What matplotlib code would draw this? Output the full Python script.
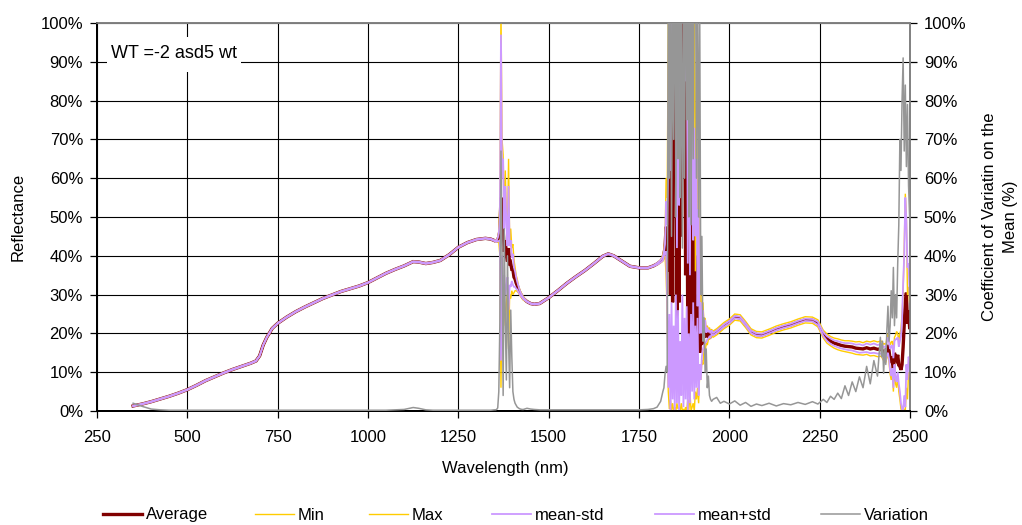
import numpy as np
import matplotlib
matplotlib.use("Agg")
import matplotlib.pyplot as plt
from matplotlib.lines import Line2D
from matplotlib.patches import Rectangle
from matplotlib.ticker import FuncFormatter

plt.rcParams["font.family"] = ["Liberation Sans", "DejaVu Sans"]
plt.rcParams["font.size"] = 12

# ---------------------------------------------------------------- data
# wavelength samples (nm)
wavelength_nm = [
    350, 375, 400, 425, 450, 475, 500, 525, 550, 575, 600, 625, 650, 675, 690, 700,
    710, 720, 735, 750, 775, 800, 825, 850, 875, 900, 925, 950, 975, 1000, 1025,
    1050, 1075, 1100, 1125, 1140, 1160, 1180, 1200, 1225, 1250, 1275, 1300, 1325,
    1340, 1350,
    # first water band
    1353, 1356, 1359, 1362, 1365, 1368, 1371, 1374, 1377, 1380, 1383, 1386, 1389,
    1392, 1395, 1398, 1401, 1404, 1407, 1410, 1413, 1416, 1419, 1422, 1426, 1430,
    1440, 1450, 1460, 1475, 1500, 1525, 1550, 1575, 1600, 1625, 1650, 1665, 1680,
    1700, 1725, 1750, 1775, 1790, 1800, 1810, 1816,
    # second water band
    1819, 1822, 1825, 1828, 1831, 1834, 1837, 1840, 1843, 1846, 1849, 1852, 1855,
    1858, 1861, 1864, 1867, 1870, 1873, 1876, 1879, 1882, 1885, 1888, 1891, 1894,
    1897, 1900, 1903, 1906, 1909, 1912, 1915, 1918, 1921, 1924, 1927, 1930, 1933,
    1936, 1939, 1942, 1945, 1948, 1951,
    1955, 1965, 1975, 1985, 2000, 2015, 2030, 2045, 2060, 2075, 2090, 2110, 2130,
    2150, 2170, 2190, 2210, 2230, 2245, 2260, 2270, 2280, 2290, 2300, 2310, 2320,
    2330, 2340, 2350, 2360, 2370, 2380, 2390, 2400, 2410, 2418,
    # detector edge
    2421, 2424, 2427, 2430, 2433, 2436, 2439, 2442, 2445, 2448, 2451, 2454, 2457,
    2460, 2463, 2466, 2469, 2472, 2475, 2478, 2481, 2484, 2487, 2490, 2493, 2496, 2499,
]

# mean reflectance (%)
average_pct = [
    1.3, 1.8, 2.4, 3.1, 3.8, 4.6, 5.5, 6.6, 7.8, 8.8, 9.8, 10.7, 11.5, 12.3, 12.9, 14.2,
    17.0, 19.0, 21.3, 22.6, 24.2, 25.6, 26.8, 27.9, 29.0, 29.9, 30.8, 31.5, 32.2, 33.1,
    34.3, 35.5, 36.5, 37.4, 38.5, 38.4, 38.0, 38.3, 38.8, 40.3, 42.2, 43.4, 44.2, 44.5,
    44.3, 43.9,
    43.8, 43.8, 44.2, 44.8, 46.5, 55.0, 50.0, 47.0, 41.0, 44.0, 40.0, 38.5, 42.0,
    37.5, 38.0, 36.5, 36.5, 34.5, 34.0, 33.0, 32.3, 31.5, 30.8, 30.2, 29.6, 29.0,
    28.2, 27.7, 27.5, 27.7, 29.2, 31.0, 32.9, 34.6, 36.2, 38.0, 39.9, 40.5, 40.0,
    38.8, 37.3, 36.9, 36.9, 37.4, 37.9, 38.6, 39.3,
    40.5, 42.0, 47.5, 38.0, 36.0, 75.0, 30.0, 85.0, 28.0, 108.0, 60.0, 95.0, 22.0,
    70.0, 28.0, 104.0, 45.0, 110.0, 90.0, 112.0, 35.0, 80.0, 20.0, 60.0, 17.0, 50.0,
    70.0, 19.0, 45.0, 22.0, 40.0, 16.0, 34.0, 15.0, 24.0, 17.0, 21.0, 19.0, 20.5,
    19.0, 20.0, 19.5, 20.0, 19.5, 20.3,
    19.8, 20.4, 21.2, 22.0, 22.9, 24.2, 24.0, 22.3, 20.4, 19.7, 19.6, 20.3, 21.1,
    21.7, 22.2, 22.9, 23.5, 23.4, 22.6, 19.8, 18.7, 18.0, 17.5, 17.2, 16.9, 16.7,
    16.6, 16.5, 16.2, 16.1, 16.0, 16.3, 16.0, 16.2, 15.9, 16.0,
    16.0, 15.4, 15.0, 15.3, 14.6, 16.2, 17.0, 15.5, 13.2, 12.8, 14.0, 9.8, 15.0,
    13.5, 13.0, 14.5, 11.8, 11.5, 10.6, 12.0, 16.5, 22.0, 28.0, 30.5, 22.5, 26.0, 21.5,
]

# lowest reflectance of the samples (%)
minimum_pct = [
    1.2, 1.7, 2.3, 3.0, 3.7, 4.5, 5.4, 6.5, 7.7, 8.7, 9.7, 10.6, 11.4, 12.2, 12.8, 14.1,
    16.9, 18.9, 21.2, 22.5, 24.1, 25.5, 26.7, 27.8, 28.9, 29.8, 30.7, 31.4, 32.1, 33.0,
    34.2, 35.4, 36.4, 37.3, 38.4, 38.3, 37.9, 38.2, 38.7, 40.2, 42.1, 43.3, 44.1, 44.4,
    44.2, 43.8,
    43.5, 43.5, 43.6, 43.5, 40.0, 6.0, 30.0, 20.0, 30.0, 22.0, 28.0, 30.0, 16.0,
    30.0, 29.0, 31.0, 30.0, 30.5, 31.0, 31.0, 30.8, 30.5, 30.0, 29.6, 29.1, 28.6,
    28.1, 27.6, 27.4, 27.6, 29.1, 30.9, 32.8, 34.5, 36.1, 37.9, 39.8, 40.4, 39.9,
    38.7, 37.2, 36.8, 36.8, 37.3, 37.7, 38.2, 38.6,
    39.5, 40.0, 35.0, 25.0, 5.0, 0.5, 3.0, 0.0, 2.0, 0.0, 1.0, 0.0, 2.0,
    0.5, 1.0, 0.0, 2.0, 0.0, 0.5, 0.0, 1.0, 0.0, 3.0, 0.0, 5.0, 0.0,
    1.0, 2.0, 0.0, 5.0, 3.0, 6.0, 2.0, 10.0, 8.0, 13.0, 12.0, 16.0, 15.0,
    17.5, 17.0, 18.5, 18.5, 19.0, 19.5,
    19.0, 19.6, 20.4, 21.2, 22.1, 23.4, 23.2, 21.5, 19.6, 18.9, 18.8, 19.5, 20.3,
    20.9, 21.4, 22.1, 22.7, 22.6, 21.7, 18.8, 17.5, 16.8, 16.2, 15.8, 15.5, 15.3,
    15.1, 14.9, 14.6, 14.5, 14.4, 14.6, 14.2, 14.3, 14.0, 14.1,
    14.0, 13.5, 13.0, 13.2, 12.5, 13.8, 14.5, 12.5, 9.5, 8.0, 10.0, 5.0, 11.0,
    7.0, 6.0, 9.0, 5.0, 3.0, 0.5, 0.0, 0.0, 0.5, 0.0, 6.0, 3.0, 10.0, 9.0,
]

# highest reflectance of the samples (%)
maximum_pct = [
    1.4, 1.9, 2.5, 3.2, 3.9, 4.7, 5.6, 6.7, 7.9, 8.9, 9.9, 10.8, 11.6, 12.4, 13.0, 14.3,
    17.1, 19.1, 21.4, 22.7, 24.3, 25.7, 26.9, 28.0, 29.1, 30.0, 30.9, 31.6, 32.3, 33.2,
    34.4, 35.6, 36.6, 37.5, 38.6, 38.5, 38.1, 38.4, 38.9, 40.4, 42.3, 43.5, 44.3, 44.6,
    44.4, 44.0,
    44.1, 44.1, 44.8, 46.0, 53.0, 104.0, 70.0, 66.0, 50.0, 62.0, 50.0, 46.0, 65.0,
    44.0, 47.0, 42.0, 43.0, 39.0, 37.0, 35.0, 34.0, 32.5, 31.6, 30.8, 30.1, 29.4,
    28.3, 27.8, 27.6, 27.8, 29.3, 31.1, 33.0, 34.7, 36.3, 38.1, 40.0, 40.6, 40.1,
    38.9, 37.4, 37.0, 37.0, 37.5, 38.1, 39.0, 40.2,
    41.5, 44.0, 60.0, 55.0, 100.0, 120.0, 90.0, 120.0, 115.0, 120.0, 120.0, 120.0, 70.0,
    120.0, 80.0, 120.0, 120.0, 120.0, 120.0, 120.0, 120.0, 120.0, 60.0, 120.0, 55.0, 120.0,
    120.0, 70.0, 115.0, 36.0, 90.0, 30.0, 70.0, 25.0, 32.0, 22.0, 28.0, 22.0, 24.0,
    21.0, 22.0, 21.0, 21.5, 20.5, 21.0,
    20.6, 21.2, 22.0, 22.8, 23.7, 25.0, 24.8, 23.1, 21.2, 20.5, 20.4, 21.1, 21.9,
    22.5, 23.0, 23.7, 24.3, 24.2, 23.5, 20.8, 19.9, 19.2, 18.8, 18.6, 18.3, 18.1,
    18.1, 18.0, 17.8, 17.9, 17.6, 18.0, 17.8, 18.1, 17.8, 18.0,
    18.0, 17.6, 17.2, 17.4, 17.0, 18.8, 20.0, 18.2, 17.0, 17.8, 18.0, 15.0, 19.0,
    19.5, 20.5, 20.0, 18.0, 20.0, 21.0, 25.0, 30.0, 42.0, 56.0, 50.0, 30.0, 32.0, 28.0,
]

# mean minus one standard deviation (%)
mean_minus_std_pct = [
    1.2, 1.7, 2.3, 3.0, 3.7, 4.5, 5.4, 6.5, 7.7, 8.7, 9.7, 10.6, 11.4, 12.2, 12.8, 14.1,
    16.9, 18.9, 21.2, 22.5, 24.1, 25.5, 26.7, 27.8, 28.9, 29.8, 30.7, 31.4, 32.1, 33.0,
    34.2, 35.4, 36.4, 37.3, 38.4, 38.3, 37.9, 38.2, 38.7, 40.2, 42.1, 43.3, 44.1, 44.4,
    44.2, 43.8,
    43.6, 43.6, 43.8, 43.8, 43.5, 13.0, 40.0, 29.0, 35.0, 30.0, 32.0, 34.5, 26.0,
    32.5, 32.0, 33.5, 32.5, 32.0, 32.0, 31.5, 31.3, 30.7, 30.2, 29.8, 29.3, 28.8,
    28.1, 27.6, 27.4, 27.6, 29.1, 30.9, 32.8, 34.5, 36.1, 37.9, 39.8, 40.4, 39.9,
    38.7, 37.2, 36.8, 36.8, 37.3, 37.7, 38.3, 38.8,
    40.0, 41.0, 41.0, 28.0, 6.0, 25.0, -2.0, 28.0, 3.0, 22.0, 0.0, 30.0, 2.0,
    26.0, 0.0, 18.0, 4.0, 30.0, 1.0, 24.0, 3.0, 27.0, 0.0, 20.0, 2.0, 25.0,
    5.0, 28.0, 3.0, 22.0, 6.0, 24.0, 4.0, 12.0, 8.0, 14.0, 16.0, 17.0, 17.5,
    17.8, 18.5, 18.7, 19.2, 19.0, 19.8,
    19.5, 20.1, 20.9, 21.7, 22.6, 23.9, 23.7, 22.0, 20.1, 19.4, 19.3, 20.0, 20.8,
    21.4, 21.9, 22.6, 23.2, 23.1, 22.2, 19.3, 18.1, 17.3, 16.8, 16.4, 16.1, 15.9,
    15.7, 15.6, 15.3, 15.0, 15.1, 15.2, 14.9, 15.0, 14.8, 14.8,
    14.8, 14.0, 13.5, 14.0, 13.0, 14.5, 15.0, 13.5, 10.5, 9.0, 11.0, 6.0, 12.0,
    8.5, 7.5, 10.0, 7.0, 5.0, 2.0, 0.5, 0.0, 4.0, 1.0, 12.0, 8.0, 14.0, 13.0,
]

# mean plus one standard deviation (%)
mean_plus_std_pct = [
    1.4, 1.9, 2.5, 3.2, 3.9, 4.7, 5.6, 6.7, 7.9, 8.9, 9.9, 10.8, 11.6, 12.4, 13.0, 14.3,
    17.1, 19.1, 21.4, 22.7, 24.3, 25.7, 26.9, 28.0, 29.1, 30.0, 30.9, 31.6, 32.3, 33.2,
    34.4, 35.6, 36.6, 37.5, 38.6, 38.5, 38.1, 38.4, 38.9, 40.4, 42.3, 43.5, 44.3, 44.6,
    44.4, 44.0,
    44.0, 44.0, 44.6, 45.8, 49.5, 97.0, 60.0, 65.0, 47.0, 58.0, 48.0, 42.5, 58.0,
    42.5, 44.0, 39.5, 40.5, 37.0, 36.0, 34.5, 33.3, 32.3, 31.4, 30.6, 29.9, 29.2,
    28.3, 27.8, 27.6, 27.8, 29.3, 31.1, 33.0, 34.7, 36.3, 38.1, 40.0, 40.6, 40.1,
    38.9, 37.4, 37.0, 37.0, 37.5, 38.1, 38.9, 39.8,
    41.0, 43.0, 54.0, 48.0, 66.0, 120.0, 62.0, 120.0, 75.0, 120.0, 108.0, 120.0, 42.0,
    115.0, 53.0, 120.0, 105.0, 120.0, 120.0, 120.0, 85.0, 115.0, 38.0, 110.0, 35.0, 90.0,
    115.0, 44.0, 73.0, 45.0, 65.0, 27.0, 52.0, 20.0, 28.0, 20.0, 26.0, 21.0, 23.5,
    20.2, 21.5, 20.3, 20.8, 20.0, 20.8,
    20.1, 20.7, 21.5, 22.3, 23.2, 24.5, 24.3, 22.6, 20.7, 20.0, 19.9, 20.6, 21.4,
    22.0, 22.5, 23.2, 23.8, 23.7, 23.0, 20.3, 19.3, 18.7, 18.2, 18.0, 17.7, 17.5,
    17.5, 17.4, 17.1, 17.2, 16.9, 17.4, 17.1, 17.4, 17.0, 17.2,
    17.2, 16.8, 16.5, 16.6, 16.2, 17.9, 19.0, 17.5, 16.0, 16.6, 17.0, 13.6, 18.0,
    18.5, 18.5, 19.0, 16.6, 18.0, 19.2, 23.5, 33.0, 40.0, 55.0, 49.0, 37.0, 38.0, 30.0,
]

# coefficient of variation on the mean (%)
variation_pct = [
    2.0, 1.2, 0.5, 0.3, 0.2, 0.2, 0.2, 0.2, 0.2, 0.2, 0.2, 0.2, 0.2, 0.2, 0.2, 0.2,
    0.2, 0.2, 0.2, 0.2, 0.2, 0.2, 0.2, 0.2, 0.2, 0.2, 0.2, 0.2, 0.2, 0.2, 0.2,
    0.2, 0.3, 0.4, 0.9, 0.7, 0.3, 0.2, 0.2, 0.2, 0.2, 0.2, 0.2, 0.2, 0.2, 0.3,
    0.3, 0.4, 0.8, 5.0, 23.0, 67.0, 40.0, 4.0, 47.0, 23.0, 8.0, 40.0, 18.0,
    6.0, 26.0, 14.0, 5.0, 3.0, 2.0, 1.5, 1.0, 0.8, 0.6, 0.5, 0.4, 0.4,
    0.7, 0.5, 0.4, 0.3, 0.3, 0.3, 0.3, 0.3, 0.3, 0.3, 0.3, 0.3, 0.3,
    0.3, 0.3, 0.3, 0.4, 0.6, 1.0, 2.5, 5.0,
    6.0, 9.5, 11.5, 10.0, 105.0, 60.0, 130.0, 45.0, 110.0, 70.0, 140.0, 50.0, 120.0,
    65.0, 150.0, 55.0, 115.0, 42.0, 105.0, 60.0, 140.0, 75.0, 160.0, 50.0, 130.0, 48.0,
    110.0, 65.0, 120.0, 130.0, 60.0, 115.0, 50.0, 105.0, 30.0, 45.0, 18.0, 24.0, 10.0,
    16.0, 6.0, 9.0, 4.0, 3.0, 2.5,
    3.0, 3.5, 2.0, 2.5, 1.8, 2.6, 1.5, 2.2, 1.2, 1.8, 1.4, 2.0, 1.3,
    1.9, 1.6, 2.2, 1.7, 2.4, 1.8, 3.0, 2.2, 3.8, 3.0, 4.6, 3.2, 6.5,
    4.0, 7.5, 5.0, 8.8, 6.0, 11.5, 7.0, 13.0, 9.0, 19.0,
    14.0, 18.0, 9.7, 16.0, 12.0, 21.0, 27.0, 18.0, 22.0, 31.0, 24.0, 37.0, 22.0,
    30.0, 24.0, 38.0, 48.0, 70.0, 62.0, 80.0, 91.0, 67.0, 84.0, 63.0, 79.0, 58.0, 50.0,
]

x_ticks = [250, 500, 750, 1000, 1250, 1500, 1750, 2000, 2250, 2500]
pct_ticks = [0, 10, 20, 30, 40, 50, 60, 70, 80, 90, 100]

series_style = [
    ("Average", average_pct, "#800000", 2.4),
    ("Min", minimum_pct, "#FFCC00", 1.0),
    ("Max", maximum_pct, "#FFCC00", 1.0),
    ("mean-std", mean_minus_std_pct, "#CC99FF", 1.3),
    ("mean+std", mean_plus_std_pct, "#CC99FF", 1.3),
]
variation_style = ("Variation", variation_pct, "#969696", 1.1)

# ---------------------------------------------------------------- figure
W, H = 1022, 525
fig = plt.figure(figsize=(W / 100, H / 100), dpi=100)
left, right, top, bottom = 97, 910, 23, 411
ax = fig.add_axes([left / W, 1 - bottom / H, (right - left) / W, (bottom - top) / H])

wl = np.array(wavelength_nm, dtype=float)
for name, vals, col, lw in series_style:
    ax.plot(wl, vals, color=col, lw=lw, solid_joinstyle="miter", zorder=3)

ax.set_xlim(250, 2500)
ax.set_ylim(0, 100)
ax.set_xticks(x_ticks)
ax.set_yticks(pct_ticks)
pct_fmt = FuncFormatter(lambda v, p: f"{v:.0f}%")
ax.yaxis.set_major_formatter(pct_fmt)
ax.grid(True, color="black", lw=0.8)
ax.set_axisbelow(True)

ax2 = ax.twinx()
vname, vvals, vcol, vlw = variation_style
ax2.plot(wl, vvals, color=vcol, lw=vlw, zorder=3)
ax2.set_ylim(0, 100)
ax2.set_yticks(pct_ticks)
ax2.yaxis.set_major_formatter(pct_fmt)

for a in (ax, ax2):
    a.tick_params(direction="out", length=5, width=0.9, color="black",
                  labelsize=12, pad=5)
    a.spines["left"].set_color("black")
    a.spines["left"].set_linewidth(1.4)
    a.spines["bottom"].set_color("black")
    a.spines["bottom"].set_linewidth(1.4)
    a.spines["top"].set_color("#808080")
    a.spines["top"].set_linewidth(1.2)
    a.spines["right"].set_color("#808080")
    a.spines["right"].set_linewidth(1.2)
ax.tick_params(axis="x", pad=9)

# sample name box
ax.add_patch(Rectangle(((107 - left) / (right - left), (bottom - 72) / (bottom - top)),
                       134 / (right - left), 35 / (bottom - top),
                       transform=ax.transAxes, facecolor="white", edgecolor="none",
                       zorder=1.5))
ax.text((174 - left) / (right - left), (bottom - 54) / (bottom - top), "WT =-2 asd5 wt",
        transform=ax.transAxes, ha="center", va="center", fontsize=13, zorder=4)

# axis titles
fig.text(18 / W, 1 - 217 / H, "Reflectance", rotation=90, ha="center", va="center",
         fontsize=12)
fig.text(505 / W, 1 - 468 / H, "Wavelength (nm)", ha="center", va="center", fontsize=12)
fig.text(1000 / W, 1 - 217 / H, "Coefficient of Variatin on the\nMean (%)", rotation=90,
         ha="center", va="center", fontsize=12, multialignment="center",
         linespacing=1.45)

# legend row
legend_slots = [
    ("Average", "#800000", 2.4, 103),
    ("Min", "#FFCC00", 1.0, 255),
    ("Max", "#FFCC00", 1.0, 369),
    ("mean-std", "#CC99FF", 1.3, 492),
    ("mean+std", "#CC99FF", 1.3, 655),
    ("Variation", "#969696", 1.1, 821),
]
for label, col, lw, xs in legend_slots:
    fig.legend(handles=[Line2D([], [], color=col, lw=lw)], labels=[label],
               loc="center left", bbox_to_anchor=(xs / W, 1 - 515 / H),
               frameon=False, borderpad=0, borderaxespad=0, handlelength=2.35,
               handletextpad=0.2, fontsize=12)

fig.savefig("out.png", dpi=100)
